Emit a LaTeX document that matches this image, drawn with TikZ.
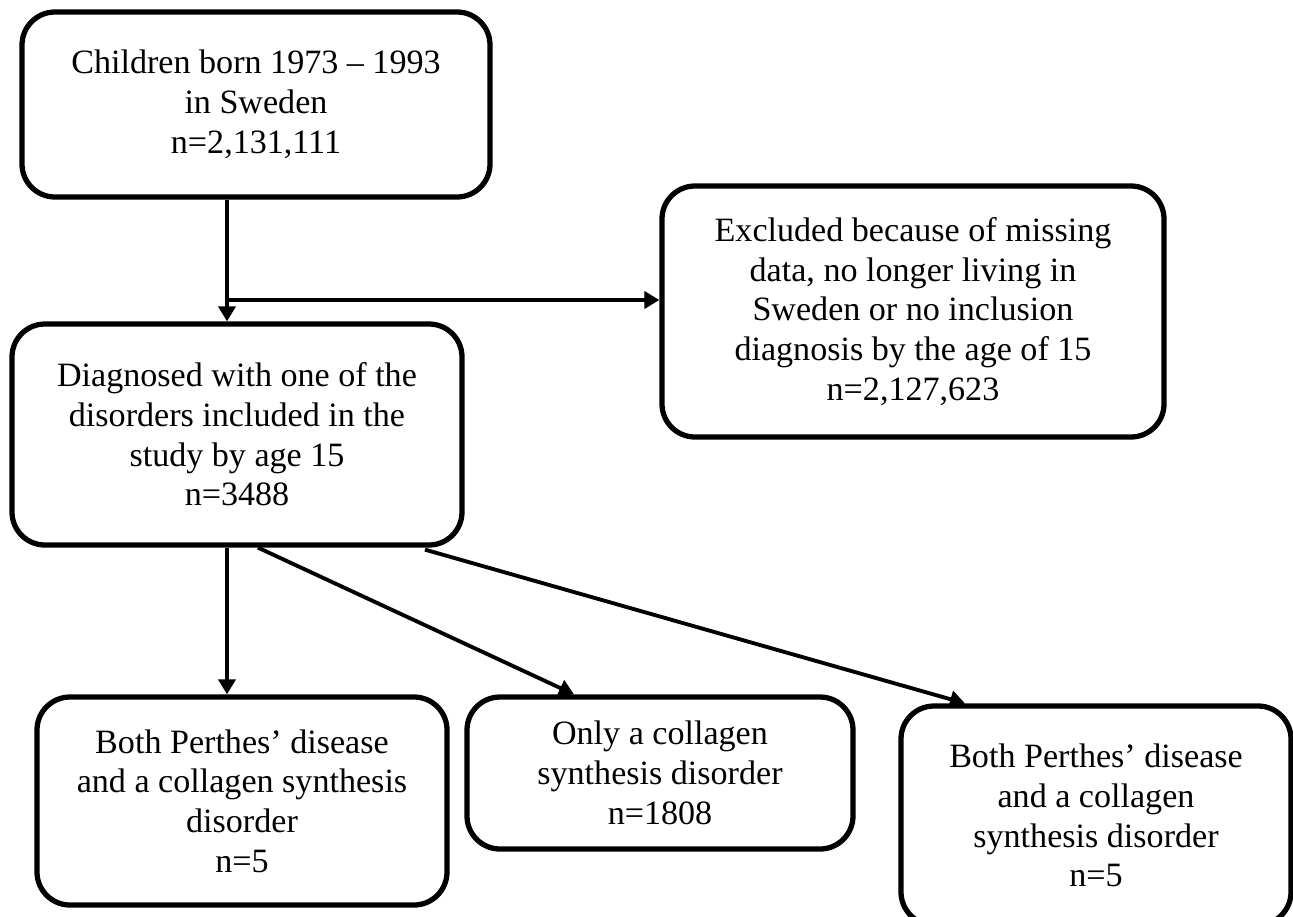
\documentclass[tikz,border=0pt]{standalone}
\usepackage{fontspec}
\setmainfont{Liberation Serif}
\usepackage{tikz}
\usetikzlibrary{positioning, calc, arrows.meta}

\begin{document}
\begin{tikzpicture}[
    box/.style={draw, rectangle, rounded corners=0.66cm, line width=3pt,
      align=center, inner sep=0pt,
      font=\fontsize{19.4}{22.6}\selectfont},
    arrow/.style={line width=2.2pt, -{Triangle[length=0.3cm, width=0.34cm]}}
  ]
      \useasboundingbox (0,0) rectangle (25.86,-18.32);
      \node[box, minimum width=9.36cm, minimum height=3.7cm]
        (C) at (5.12,-2.09) {Children born 1973 -- 1993\\in Sweden\\n=2,131,111};
      \node[box, minimum width=10.04cm, minimum height=5.02cm]
        (X) at (18.26,-6.23) {Excluded because of missing\\data, no longer living in\\Sweden or no inclusion\\diagnosis by the age of 15\\n=2,127,623};
      \node[box, minimum width=9.0cm, minimum height=4.42cm]
        (D) at (4.74,-8.69) {Diagnosed with one of the\\disorders included in the\\study by age 15\\n=3488};
      \node[box, minimum width=8.2cm, minimum height=4.16cm]
        (B1) at (4.84,-16.02) {Both Perthes' disease\\and a collagen synthesis\\disorder\\n=5};
      \node[box, minimum width=7.72cm, minimum height=3.04cm]
        (B2) at (13.2,-15.46) {Only a collagen\\synthesis disorder\\n=1808};
      \node[box, minimum width=7.8cm, minimum height=4.38cm]
        (B3) at (21.92,-16.31) {Both Perthes' disease\\and a collagen\\synthesis disorder\\n=5};
      \coordinate (S) at (4.54,-6.0);
      \draw[arrow] (C.south -| S) -- (D.north -| S);
      \draw[arrow] (S) -- (X.west |- S);
      \draw[arrow] (D.south -| S) -- (B1.north -| S);
      \draw[arrow] ([xshift=0.42cm]D.south) -- ([xshift=-1.72cm]B2.north);
      \draw[arrow] ([xshift=3.76cm,yshift=-0.04cm]D.south) -- ([xshift=-2.62cm]B3.north);
    \end{tikzpicture}
\end{document}
